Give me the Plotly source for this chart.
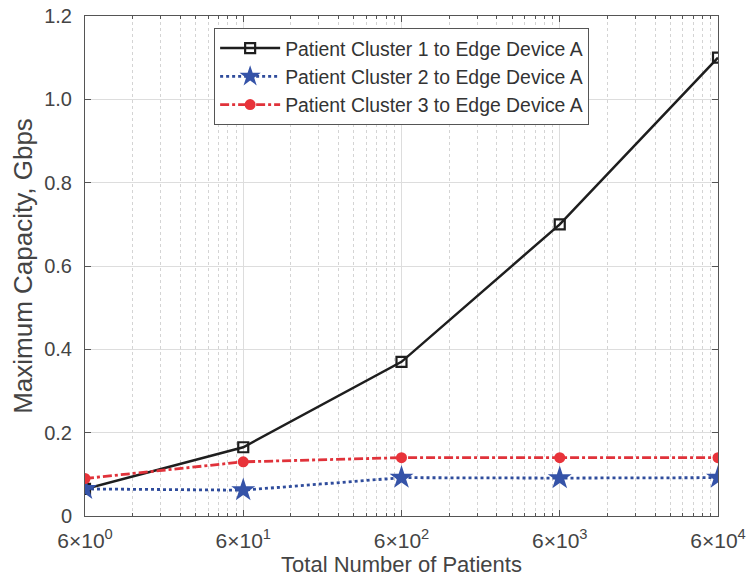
import plotly.graph_objects as go

patients = [6, 60, 600, 6000, 60000]
cluster1 = [0.065, 0.165, 0.37, 0.70, 1.10]
cluster2 = [0.065, 0.062, 0.092, 0.091, 0.092]
cluster3 = [0.09, 0.13, 0.14, 0.14, 0.14]
names = ["Patient Cluster 1 to Edge Device A",
         "Patient Cluster 2 to Edge Device A",
         "Patient Cluster 3 to Edge Device A"]
x_ticktext = ["6×10<sup>0</sup>", "6×10<sup>1</sup>", "6×10<sup>2</sup>",
              "6×10<sup>3</sup>", "6×10<sup>4</sup>"]
y_ticks = [0, 0.2, 0.4, 0.6, 0.8, 1.0, 1.2]
y_ticktext = ["0", "0.2", "0.4", "0.6", "0.8", "1.0", "1.2"]

# minor ticks (MATLAB style): multiples k*6*10^n between major ticks
minor_vals = [p * k for p in patients[:-1] for k in range(2, 10)]

fig = go.Figure()
fig.add_trace(go.Scatter(x=patients, y=cluster1, name=names[0], mode="lines+markers",
                         line=dict(color="#1e1e1e", width=2.5),
                         marker=dict(symbol="square-open", size=10, color="#1e1e1e",
                                     line=dict(width=2.2))))
fig.add_trace(go.Scatter(x=patients, y=cluster2, name=names[1], mode="lines+markers",
                         line=dict(color="#2f4c9c", width=2.8, dash="dot"),
                         marker=dict(symbol="star", size=18, color="#3553a8")))
fig.add_trace(go.Scatter(x=patients, y=cluster3, name=names[2], mode="lines+markers",
                         line=dict(color="#e0323a", width=2.8, dash="dashdot"),
                         marker=dict(symbol="circle", size=11, color="#e8333a")))

font_family = "Liberation Sans, Arial, sans-serif"
fig.update_layout(
    width=752, height=584,
    margin=dict(l=85, r=34, t=16, b=68),
    plot_bgcolor="white", paper_bgcolor="white",
    font=dict(family=font_family, color="#333333"),
    showlegend=True,
    legend=dict(x=0.204, y=0.976, xanchor="left", yanchor="top",
                bgcolor="white", bordercolor="#555555", borderwidth=1,
                font=dict(size=19.4, color="#333333"), tracegroupgap=0,
                itemwidth=60),
    xaxis=dict(type="log", range=[0.778151, 4.778151], automargin=False,
               tickmode="array", tickvals=patients, ticktext=x_ticktext,
               tickfont=dict(family=font_family, size=21, color="#444444"),
               ticks="inside", ticklen=6, tickcolor="#555555",
               ticklabelstandoff=6,
               showline=True, linecolor="#555555", linewidth=1, mirror="ticks",
               showgrid=True, gridcolor="#dddddd", gridwidth=1,
               minor=dict(tickmode="array", tickvals=minor_vals, showgrid=True,
                          griddash="dot", gridcolor="#d4d4d4", ticks="inside",
                          ticklen=3, tickcolor="#555555"),
               title=dict(text="Total Number of Patients",
                          font=dict(size=22, color="#444444"), standoff=2),
               zeroline=False),
    yaxis=dict(range=[0, 1.2], tickmode="array", tickvals=y_ticks, ticktext=y_ticktext,
               automargin=False,
               tickfont=dict(family=font_family, size=20, color="#444444"),
               ticks="inside", ticklen=6, tickcolor="#555555",
               ticklabelstandoff=8,
               showline=True, linecolor="#555555", linewidth=1, mirror="ticks",
               showgrid=True, gridcolor="#dddddd", gridwidth=1,
               title=dict(text="Maximum Capacity, Gbps",
                          font=dict(size=26, color="#444444"), standoff=4),
               zeroline=False),
)
fig.write_html("out.html")
